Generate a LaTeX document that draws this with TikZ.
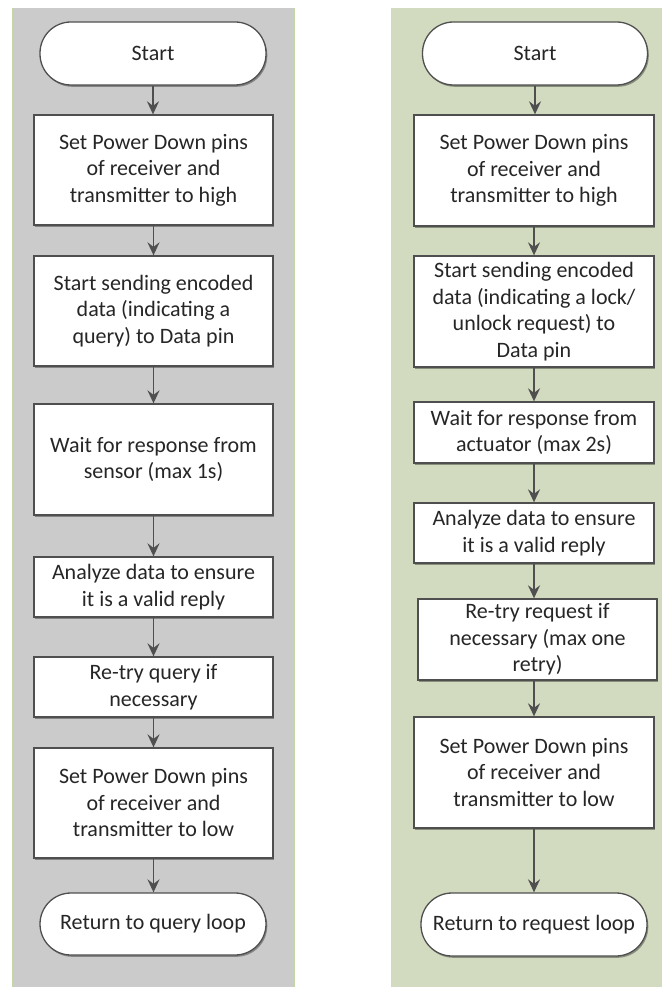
\documentclass[tikz,border=0pt]{standalone}
\usepackage{fontspec}
\setmainfont{Carlito}
\usetikzlibrary{arrows.meta,shadows}
\definecolor{panelgray}{HTML}{CBCBCB}
\definecolor{panelgreen}{HTML}{D2DBC0}
\definecolor{edgegreen}{HTML}{C3D7A6}
\definecolor{linegray}{HTML}{4F4F4F}
\definecolor{txt}{HTML}{262626}
\tikzset{
  every node/.style={font=\fontsize{22}{26.5}\selectfont, text=txt},
  procbox/.style={draw=linegray, line width=1.3pt, fill=white, align=center, inner sep=0pt,
    drop shadow={shadow xshift=1.3pt, shadow yshift=-1.8pt, fill=black, opacity=0.35}},
  termbox/.style={procbox, rounded corners=31pt},
  flow/.style={draw=linegray, line width=1.8pt, -{Stealth[length=13pt,width=12pt,inset=4.5pt]}}
}
\begin{document}
\begin{tikzpicture}[x=1pt,y=-1pt]
\useasboundingbox (0,0) rectangle (662,987);
\fill[white] (0,0) rectangle (662,987);
% panels
\fill[panelgray] (12,8) rectangle (295,987);
\fill[panelgreen] (391,8) rectangle (662,987);
\draw[edgegreen, line width=0.8pt] (12.4,8) -- (12.4,987) (294.6,8) -- (294.6,987);

% left column
\node[termbox, minimum width=226pt, minimum height=63pt] (Ls) at (153,53.5) {Start};
\node[procbox, minimum width=239pt, minimum height=110pt] (L1) at (153.5,170) {Set Power Down pins\\of receiver and\\transmitter to high};
\node[procbox, minimum width=239pt, minimum height=110pt] (L2) at (153.5,311) {Start sending encoded\\data (indicating a\\query) to Data pin};
\node[procbox, minimum width=239pt, minimum height=111pt] (L3) at (153.5,459.5) {Wait for response from\\sensor (max 1s)};
\node[procbox, minimum width=239pt, minimum height=60pt] (L4) at (153.5,587) {Analyze data to ensure\\it is a valid reply};
\node[procbox, minimum width=239pt, minimum height=60pt] (L5) at (153.5,687) {Re-try query if\\necessary};
\node[procbox, minimum width=239pt, minimum height=110pt] (L6) at (153.5,803) {Set Power Down pins\\of receiver and\\transmitter to low};
\node[termbox, minimum width=226pt, minimum height=62pt] (Le) at (153,924) {Return to query loop};

\foreach \a/\b in {Ls/L1,L1/L2,L2/L3,L3/L4,L4/L5,L5/L6,L6/Le}
  \draw[flow] (\a.south) -- (\a.south |- \b.north);

% right column
\node[termbox, minimum width=225pt, minimum height=63pt] (Rs) at (535,53.5) {Start};
\node[procbox, minimum width=240pt, minimum height=111pt] (R1) at (534,170.5) {Set Power Down pins\\of receiver and\\transmitter to high};
\node[procbox, minimum width=240pt, minimum height=111pt] (R2) at (534,311.5) {Start sending encoded\\data (indicating a lock/\\unlock request) to\\Data pin};
\node[procbox, minimum width=240pt, minimum height=61pt] (R3) at (534,432.5) {Wait for response from\\actuator (max 2s)};
\node[procbox, minimum width=240pt, minimum height=60pt] (R4) at (534,533) {Analyze data to ensure\\it is a valid reply};
\node[procbox, minimum width=239pt, minimum height=81pt] (R5) at (537.5,639.5) {Re-try request if\\necessary (max one\\retry)};
\node[procbox, minimum width=240pt, minimum height=111pt] (R6) at (534,772.5) {Set Power Down pins\\of receiver and\\transmitter to low};
\node[termbox, minimum width=226pt, minimum height=63pt] (Re) at (534,924.5) {Return to request loop};

\draw[flow] (Rs.south) -- (Rs.south |- R1.north);
\draw[flow] (R1.south) -- (R1.south |- R2.north);
\draw[flow] (R2.south) -- (R2.south |- R3.north);
\draw[flow] (R3.south) -- (R3.south |- R4.north);
\draw[flow] (R4.south) -- (R4.south |- R5.north);
\draw[flow] (R4.south |- R5.south) -- (R4.south |- R6.north);
\draw[flow] (R6.south) -- (R6.south |- Re.north);
\end{tikzpicture}
\end{document}
